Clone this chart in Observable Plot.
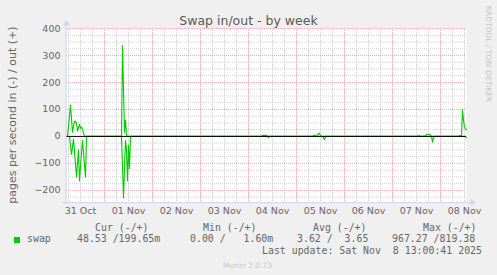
<!DOCTYPE html>
<html>
<head>
<meta charset="utf-8">
<script src="https://cdn.jsdelivr.net/npm/d3@7"></script>
<script src="https://cdn.jsdelivr.net/npm/@observablehq/plot@0.6"></script>
<style>
  html, body { margin: 0; padding: 0; background: #f0f0f0; }
  #wrap { position: relative; width: 497px; height: 275px; overflow: hidden; background: #f0f0f0; }
  #chart { position: absolute; left: 0; top: 0; }
  .t { position: absolute; white-space: pre; color: #666666; }
  .mono { font-family: "DejaVu Sans Mono", monospace; font-size: 9.9px; line-height: 12px; }
</style>
</head>
<body>
<div id="wrap">
  <div id="chart"></div>
  <div class="t" id="title" style="left:0;width:497px;text-align:center;top:12.7px;font-family:'DejaVu Sans';font-size:12.5px;line-height:15px;color:#5a5a5a;"></div>
  <div class="t" id="ylabel" style="left:11.5px;top:114.5px;font-family:'DejaVu Sans';font-size:11px;line-height:13px;transform:translate(-50%,-50%) rotate(-90deg);"></div>
  <div class="t" id="rrd" style="left:488px;top:53.5px;font-family:'DejaVu Sans';font-size:7.5px;line-height:9px;color:#c4c4c4;transform:translate(-50%,-50%) rotate(90deg);"></div>
  <div id="legend"></div>
  <div class="t" id="munin" style="left:223px;top:260.6px;font-family:'DejaVu Sans';font-size:7.5px;line-height:9px;color:#c8c8c8;"></div>
</div>
<script>
// ---- Text ----
const titleText = "Swap in/out - by week";
const yLabelText = "pages per second in (-) / out (+)";
const sideText = "RRDTOOL / TOBI OETIKER";
const versionText = "Munin 2.0.73";
const legendHeaders = ["Cur (-/+)", "Min (-/+)", "Avg (-/+)", "Max (-/+)"];
const seriesName = "swap";
const legendValues = ["48.53 /199.65m", "0.00 /   1.60m", "3.62 /  3.65", "967.27 /819.38"];
const lastUpdate = "Last update: Sat Nov  8 13:00:41 2025";

// ---- Axes ----
const xStart = "2025-10-31T05:00Z";
const xEnd = "2025-11-08T13:00Z";
const yMin = -245;
const yMax = 400;
const yTicks = [400, 300, 200, 100, 0, -100, -200];
const xTickDates = ["2025-10-31T12:00Z", "2025-11-01T12:00Z", "2025-11-02T12:00Z", "2025-11-03T12:00Z",
  "2025-11-04T12:00Z", "2025-11-05T12:00Z", "2025-11-06T12:00Z", "2025-11-07T12:00Z", "2025-11-08T12:00Z"];

// ---- Data: swap out (+) ----
const outTimes = [
  "2025-10-31T05:30Z", "2025-10-31T07:00Z", "2025-10-31T08:00Z", "2025-10-31T09:00Z", "2025-10-31T10:00Z",
  "2025-10-31T10:30Z", "2025-10-31T11:30Z", "2025-10-31T12:00Z", "2025-10-31T12:30Z", "2025-10-31T13:00Z",
  "2025-10-31T14:00Z",
  "2025-11-01T08:30Z", "2025-11-01T09:00Z", "2025-11-01T10:00Z", "2025-11-01T10:30Z", "2025-11-01T11:00Z",
  "2025-11-01T11:30Z",
  "2025-11-04T06:30Z", "2025-11-04T07:00Z", "2025-11-04T09:00Z", "2025-11-04T09:30Z",
  "2025-11-05T08:00Z", "2025-11-05T08:30Z", "2025-11-05T10:30Z", "2025-11-05T11:00Z", "2025-11-05T11:30Z",
  "2025-11-05T12:00Z", "2025-11-05T12:30Z",
  "2025-11-07T12:00Z", "2025-11-07T12:30Z", "2025-11-07T13:30Z", "2025-11-07T14:00Z",
  "2025-11-07T16:00Z", "2025-11-07T17:00Z", "2025-11-07T18:00Z", "2025-11-07T19:00Z", "2025-11-07T19:30Z",
  "2025-11-08T09:00Z", "2025-11-08T09:30Z", "2025-11-08T10:30Z", "2025-11-08T11:00Z", "2025-11-08T11:30Z",
  "2025-11-08T12:00Z", "2025-11-08T12:30Z", "2025-11-08T13:00Z"
];
const outValues = [
  0, 115, 16, 57, 50,
  20, 45, 30, 35, 25,
  0,
  0, 337, 16, 60, 5,
  0,
  0, 4, 4, 0,
  0, 4, 5, 10, 12,
  3, 0,
  0, 2, 2, 0,
  0, 6, 8, 5, 0,
  0, 3, 3, 99, 60,
  35, 28, 25
];

// ---- Data: swap in (-) ----
const inTimes = [
  "2025-10-31T06:30Z", "2025-10-31T07:30Z", "2025-10-31T08:30Z", "2025-10-31T10:00Z", "2025-10-31T11:00Z",
  "2025-10-31T11:30Z", "2025-10-31T12:30Z", "2025-10-31T13:00Z", "2025-10-31T14:30Z", "2025-10-31T15:00Z",
  "2025-11-01T08:30Z", "2025-11-01T09:30Z", "2025-11-01T10:30Z", "2025-11-01T11:00Z", "2025-11-01T11:30Z",
  "2025-11-01T12:00Z", "2025-11-01T12:30Z", "2025-11-01T13:00Z",
  "2025-11-04T09:30Z", "2025-11-04T10:00Z", "2025-11-04T10:30Z",
  "2025-11-05T13:00Z", "2025-11-05T14:00Z", "2025-11-05T14:30Z",
  "2025-11-07T19:30Z", "2025-11-07T20:00Z", "2025-11-07T20:30Z", "2025-11-07T21:00Z",
  "2025-11-08T12:30Z", "2025-11-08T13:00Z"
];
const inValues = [
  0, 67, 10, 150, 50,
  165, 60, 15, 150, 0,
  0, 228, 15, 50, 163,
  33, 119, 0,
  0, 5, 0,
  0, 12, 0,
  0, 21, 5, 0,
  0, 5
];

// ---- Colours ----
const lineColor = "#00cc00";
const gridColor = "#d2d2d2";
const majorGridColor = "#eeaaaa";
const axisColor = "#cfd6f8";

// ---- Build ----
const x0 = new Date(xStart), x1 = new Date(xEnd);
const rows = [
  ...outTimes.map((t, i) => ({t: new Date(t), v: outValues[i], s: "out"})),
  ...inTimes.map((t, i) => ({t: new Date(t), v: -inValues[i], s: "in"}))
];
const minorX = d3.utcHour.every(6).range(x0, x1).filter(d => d.getUTCHours() !== 0);
const majorX = d3.utcDay.range(new Date(x0.getTime() + 1), x1);
const minorY = d3.range(-225, yMax + 1, 25).filter(v => v % 100 !== 0);
const majorY = yTicks.filter(v => v !== 0);

const chart = Plot.plot({
  width: 497,
  height: 275,
  marginLeft: 66,
  marginRight: 31,
  marginTop: 28,
  marginBottom: 73,
  style: {background: "transparent", color: "#666666", fontFamily: "DejaVu Sans", fontSize: "9.5px"},
  x: {type: "utc", domain: [x0, x1]},
  y: {domain: [yMin, yMax]},
  marks: [
    Plot.frame({fill: "white", stroke: null}),
    Plot.ruleX(minorX, {stroke: gridColor, strokeDasharray: "1,1"}),
    Plot.ruleY(minorY, {stroke: gridColor, strokeDasharray: "1,1"}),
    Plot.ruleX(majorX, {stroke: majorGridColor, strokeDasharray: "1,1"}),
    Plot.ruleY(majorY, {stroke: majorGridColor, strokeDasharray: "1,1"}),
    Plot.line(rows, {x: "t", y: "v", z: "s", stroke: lineColor, strokeWidth: 1.1}),
    Plot.ruleY([0], {stroke: "#000000", strokeWidth: 1}),
    Plot.ruleX([x0], {y1: yMin - 10, y2: yMax + 20, stroke: axisColor, dx: -0.5}),
    Plot.ruleY([yMin], {x1: new Date(x0.getTime() - 2 * 3600e3), x2: new Date(x1.getTime() + 4 * 3600e3), stroke: axisColor}),
    Plot.dot([yMax], {x: () => x0, y: d => d, dy: -5, symbol: "triangle", r: 2.6, fill: axisColor, stroke: null}),
    Plot.dot([yMin], {x: () => new Date(x1.getTime() + 3 * 3600e3), y: d => d, symbol: "triangle", rotate: 90, r: 2.6, fill: axisColor, stroke: null}),
    Plot.axisY({ticks: yTicks, tickSize: 0, tickPadding: 6, label: null}),
    Plot.axisX({ticks: xTickDates.map(d => new Date(d)), tickFormat: d3.utcFormat("%d %b"), tickSize: 0, tickPadding: 5, label: null})
  ]
});
document.getElementById("chart").appendChild(chart);

// ---- Texts ----
document.getElementById("title").textContent = titleText;
document.getElementById("ylabel").textContent = yLabelText;
document.getElementById("rrd").textContent = sideText;
document.getElementById("munin").textContent = versionText;

const legend = document.getElementById("legend");
function addText(txt, left, top, cls) {
  const d = document.createElement("div");
  d.className = "t " + cls;
  d.style.left = left + "px";
  d.style.top = top + "px";
  d.textContent = txt;
  legend.appendChild(d);
}
const headerLefts = [95, 203, 313, 423];
legendHeaders.forEach((h, i) => addText(h, headerLefts[i], 221.7, "mono"));
const sw = document.createElement("div");
sw.style.cssText = `position:absolute;left:14px;top:237px;width:6px;height:6px;background:${lineColor};`;
legend.appendChild(sw);
addText(seriesName, 27, 233.3, "mono");
const valueLefts = [77, 190, 297, 392];
legendValues.forEach((v, i) => addText(v, valueLefts[i], 233.3, "mono"));
addText(lastUpdate, 262, 245, "mono");
</script>
</body>
</html>
